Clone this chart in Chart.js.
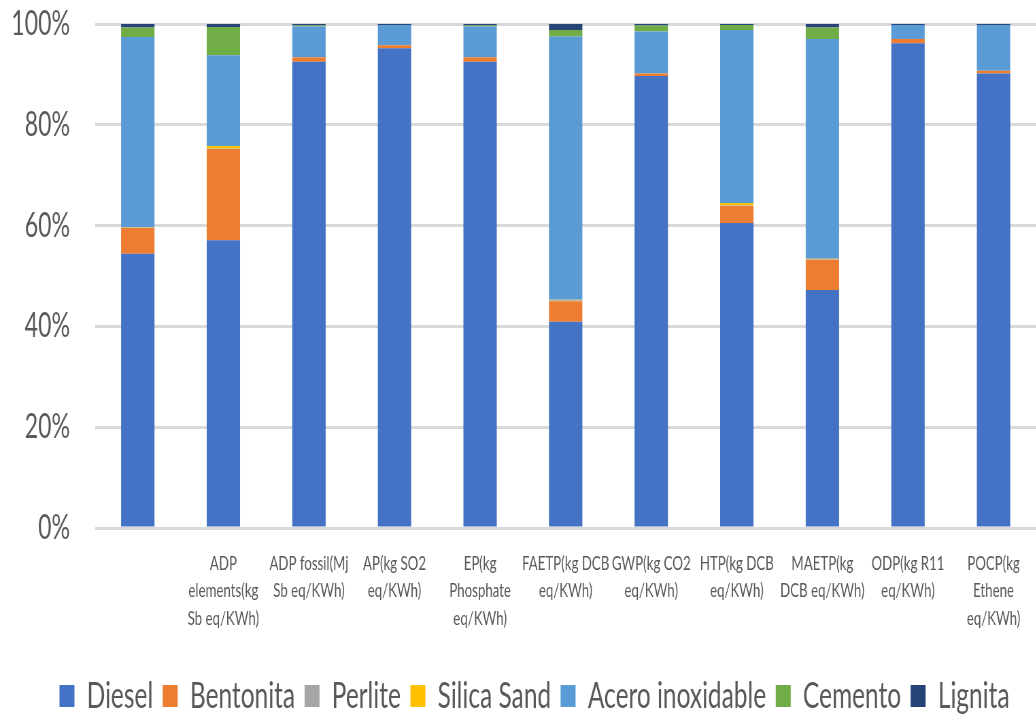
<!DOCTYPE html>
<html>
<head>
<meta charset="utf-8">
<title>Impacto por categoría</title>
<script src="https://cdn.jsdelivr.net/npm/chart.js@4.4.0/dist/chart.umd.min.js"></script>
<style>
  html, body { margin: 0; padding: 0; background: #fff; overflow: hidden; width: 1036px; height: 725px; }
  #wrap { position: absolute; left: 0; top: 0; width: 1036px; height: 725px; overflow: hidden; }
  #c { position: absolute; left: 0; top: 0; transform-origin: 0 0; }
</style>
</head>
<body>
<div id="wrap"><canvas id="c"></canvas></div>
<script>
// Impact categories (x axis), one multi-line label per bar
const categories = [
  '',
  ['ADP', 'elements(kg', 'Sb eq/KWh)'],
  ['ADP fossil(Mj', 'Sb eq/KWh)'],
  ['AP(kg SO2', 'eq/KWh)'],
  ['EP(kg', 'Phosphate', 'eq/KWh)'],
  ['FAETP(kg DCB', 'eq/KWh)'],
  ['GWP(kg CO2', 'eq/KWh)'],
  ['HTP(kg DCB', 'eq/KWh)'],
  ['MAETP(kg', 'DCB eq/KWh)'],
  ['ODP(kg R11', 'eq/KWh)'],
  ['POCP(kg', 'Ethene', 'eq/KWh)']
];

// Share of each material in every category (%)
const diesel    = [54.4, 57.1, 92.5, 95.2, 92.5, 40.9, 89.7, 60.5, 47.2, 96.2, 90.2];
const bentonita = [ 5.1, 18.1,  0.9,  0.6,  0.9,  4.1,  0.5,  3.4,  6.0,  0.8,  0.5];
const perlite   = [ 0.1,  0.1,  0.0,  0.0,  0.0,  0.2,  0.0,  0.1,  0.1,  0.0,  0.0];
const silicaSand= [ 0.1,  0.5,  0.0,  0.0,  0.0,  0.1,  0.0,  0.5,  0.1,  0.0,  0.0];
const acero     = [37.7, 18.0,  6.1,  4.0,  6.1, 52.2,  8.3, 34.3, 43.6,  2.8,  9.1];
const cemento   = [ 1.9,  5.6,  0.2,  0.0,  0.2,  1.3,  1.2,  1.0,  2.3,  0.0,  0.0];
const lignita   = [ 0.7,  0.6,  0.3,  0.2,  0.3,  1.2,  0.3,  0.2,  0.7,  0.2,  0.2];

// Y axis tick values (%)
const yTicks = [0, 20, 40, 60, 80, 100];

const seriesNames  = ['Diesel', 'Bentonita', 'Perlite', 'Silica Sand', 'Acero inoxidable', 'Cemento', 'Lignita'];
const seriesData   = [diesel, bentonita, perlite, silicaSand, acero, cemento, lignita];
const seriesColors = ['#4472C4', '#ED7D31', '#A5A5A5', '#FFC000', '#5B9BD5', '#70AD47', '#264478'];

// The drawing is laid out wide and condensed horizontally, giving tall narrow lettering
const SX = 0.68;
const W = Math.round(1036 / SX);
const H = 725;
const canvas = document.getElementById('c');
canvas.width = W;
canvas.height = H;
canvas.style.width = W + 'px';
canvas.style.height = H + 'px';
canvas.style.transform = 'scaleX(' + SX + ')';

const plotLeft = 95 / SX;     // left edge of the plot area
const legendShift = 24;       // legend sits a little right of the page centre

// Moves the legend block sideways once the layout is done
const legendOffset = {
  id: 'legendOffset',
  afterLayout(chart) {
    const lg = chart.legend;
    if (lg) { lg.left += legendShift; lg.right += legendShift; }
  }
};

Chart.defaults.font.family = "Lato, 'Liberation Sans', sans-serif";
Chart.defaults.color = '#595959';

new Chart(canvas, {
  type: 'bar',
  data: {
    labels: categories,
    datasets: seriesNames.map((name, i) => ({
      label: name,
      data: seriesData[i],
      backgroundColor: seriesColors[i],
      borderWidth: 0,
      barPercentage: 0.39,
      categoryPercentage: 1.0
    }))
  },
  plugins: [legendOffset],
  options: {
    responsive: false,
    animation: false,
    devicePixelRatio: 1,
    layout: { padding: { left: 0, right: 0, top: 24, bottom: 1 } },
    plugins: {
      legend: {
        position: 'bottom',
        labels: {
          boxWidth: 22,
          boxHeight: 22,
          padding: 14,
          font: { size: 36 },
          color: '#595959'
        }
      },
      tooltip: { enabled: false }
    },
    scales: {
      x: {
        stacked: true,
        grid: { display: false },
        border: { display: false },
        ticks: {
          maxRotation: 0,
          autoSkip: false,
          padding: 14,
          font: { size: 19.5, lineHeight: 1.4 },
          color: '#595959'
        },
        afterFit: s => { s.height = 136; }
      },
      y: {
        stacked: true,
        min: 0,
        max: 100,
        afterBuildTicks: s => { s.ticks = yTicks.map(v => ({ value: v })); },
        grid: { color: '#d9d9d9', lineWidth: 3, drawTicks: false },
        border: { display: false },
        ticks: {
          padding: 36.7,
          font: { size: 34 },
          color: '#595959',
          callback: v => v + '%'
        },
        afterFit: s => {
          s.width = plotLeft;
          s.paddingTop = 0;
          s.paddingBottom = 0;
        }
      }
    }
  }
});
</script>
</body>
</html>
